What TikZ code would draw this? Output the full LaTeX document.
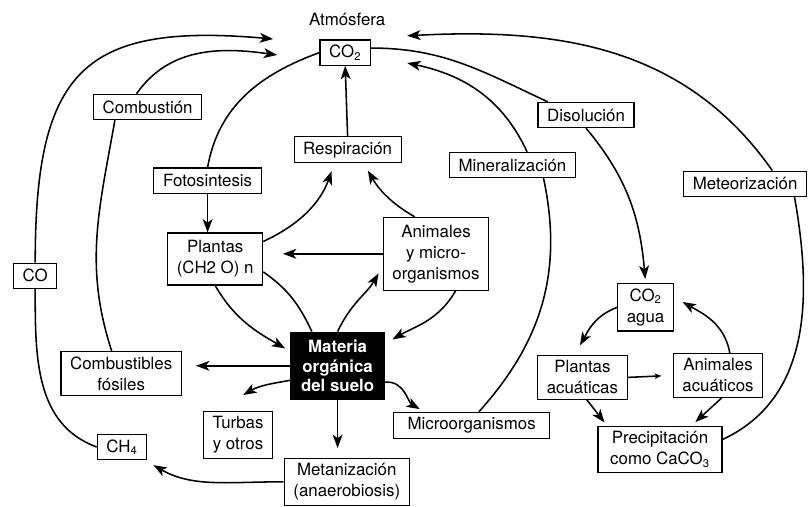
\documentclass[tikz,border=0pt]{standalone}
\usepackage{fontspec}
\setmainfont{TeX Gyre Heros}
\usetikzlibrary{arrows.meta}
\tikzset{
    carbon cycle/.style = {>={Stealth[length=9.5pt, width=7pt, inset=2.5pt]}},
    line/.style      = {line width=1.1pt},
    box/.style       = {draw, line width=0.8pt, fill=white, align=center,
                        inner xsep=6.5pt, inner ysep=3.5pt,
                        minimum height=18pt,
                        font=\fontsize{12}{15}\selectfont},
    soil/.style      = {box, fill=black, text=white,
                        font=\fontsize{12}{14}\selectfont\bfseries,
                        minimum width=2.35cm, minimum height=1.68cm},
    title/.style     = {font=\fontsize{12}{14}\selectfont},
    small tip/.style = {-{Stealth[length=5pt, width=4pt]}}
}

\begin{document}
\begin{tikzpicture}[carbon cycle]
\useasboundingbox (0,0) rectangle (20.2,12.675);

% Atmospheric CO2 and the boxes around it.
\node[title] (atmos) at (8.68,12.18) {Atmósfera};
\node[box] (co2) at (8.63,11.36) {CO\textsubscript{2}};
\node[box] (comb) at (3.69,10.0) {Combustión};
\node[box] (resp) at (8.69,8.93) {Respiración};
\node[box] (foto) at (5.19,8.16) {Fotosintesis};
\node[box] (disol) at (14.65,9.8) {Disolución};
\node[box] (miner) at (12.81,8.55) {Mineralización};
\node[box] (meteor) at (18.63,8.08) {Meteorización};

% Land compartments.
\node[box, minimum width=2.35cm, minimum height=1.3cm]
    (plantas) at (5.38,6.2) {Plantas\\(CH2 O) n};
\node[box, minimum height=1.82cm]
    (animales) at (10.9,6.33) {Animales\\y micro-\\organismos};
\node[box] (co) at (0.88,5.78) {CO};
\node[soil] (materia) at (8.44,3.53) {Materia\\orgánica\\del suelo};
\node[box] (fosiles) at (3.03,3.34) {Combustibles\\fósiles};
\node[box] (turbas) at (5.95,1.8) {Turbas\\y otros};
\node[box, minimum width=3.9cm] (micro) at (11.79,2.04) {Microorganismos};
\node[box] (ch4) at (3.05,1.5) {CH\textsubscript{4}};
\node[box] (metan) at (8.67,0.63) {Metanización\\(anaerobiosis)};

% Aquatic compartments.
\node[box] (co2agua) at (16.14,4.99) {CO\textsubscript{2}\\agua};
\node[box] (plac) at (14.56,3.24) {Plantas\\acuáticas};
\node[box] (anac) at (17.95,3.29) {Animales\\acuáticos};
\node[box, minimum width=3.1cm]
    (precip) at (16.5,1.44) {Precipitación\\como CaCO\textsubscript{3}};

% Loose arrow ends next to the atmosphere box.
\coordinate (tipco) at (6.83,11.7);
\coordinate (tipcomb) at (6.93,11.3);
\coordinate (tipminer) at (10.18,11.1);
\coordinate (tipmeteor) at (10.18,11.78);
\coordinate (turbtip) at (6.08,2.8);

% Outer loop through methane and carbon monoxide.
\draw[line] (ch4.west) to[out=160, in=-90] (co.south);
\draw[->, line] (co.north) to[out=90, in=175, looseness=1.5] (tipco);

% Burning of fossil fuels.
\draw[line] (fosiles.113) to[out=108, in=-100] (comb.202);
\draw[->, line] (comb.130) to[out=55, in=172] (tipcomb);

% Photosynthesis and respiration.
\draw[line] (co2.west) to[out=200, in=80] (foto.north);
\draw[->, line] (foto.south) -- (foto.south |- plantas.north);
\draw[->, line] (resp.north) -- (co2.south);
\draw[->, line, shorten >=6pt] (plantas.20) to[out=25, in=-110] (resp.226);
\draw[->, line, shorten >=6pt] (animales.120) to[out=150, in=-60] (resp.320);
\draw[->, line, shorten >=14pt] (animales.west) -- (plantas.east |- animales.west);

% Soil organic matter.
\draw[->, line, shorten >=4pt] (plantas.south) to[out=-60, in=150] (materia.163);
\draw[line] (plantas.-15) to[out=-35, in=115] (materia.127);
\draw[->, line, shorten >=6pt] (materia.north) to[out=65, in=-120] (animales.193);
\draw[->, line, shorten >=6pt] (animales.-62) to[out=-120, in=30] (materia.25);
\draw[->, line, shorten >=10pt] (materia.west) -- (fosiles.east |- materia.west);
\draw[->, line] (materia.197) to[out=190, in=30] (turbtip);
\draw[->, line, shorten >=7pt] (materia.south) -- (materia.south |- metan.north);
\draw[->, line, shorten >=4pt] (materia.-19) to[out=5, in=150] (micro.164);

% Methanogenesis back to CH4.
\draw[->, line, shorten >=7pt] (metan.west) to[out=180, in=-30] (ch4.-30);

% Mineralisation by microorganisms.
\draw[line] (micro.62) to[out=48, in=-78] (miner.-23);
\draw[->, line] (miner.42) to[out=115, in=-12] (tipminer);

% Dissolution and the aquatic loop.
\draw[line] (co2.10) to[out=0, in=155] (disol.161);
\draw[->, line, shorten >=3pt] (disol.south) to[out=-50, in=95] (co2agua.north);
\draw[->, line, shorten >=8pt] (co2agua.west) to[out=200, in=60] (plac.110);
\draw[->, line, shorten >=7pt] (anac.62) to[out=100, in=-30] (co2agua.20);
\draw[small tip, line, shorten >=8pt] (plac.east) -- (anac.west);
\draw[->, line, shorten >=3pt] (plac.-79) -- (precip.156);
\draw[->, line, shorten >=4pt] (anac.-80) -- (precip.37);

% Weathering of carbonates.
\draw[line] (precip.9) to[out=25, in=-80] (meteor.-15);
\draw[->, line] (meteor.26) to[out=125, in=3] (tipmeteor);

\end{tikzpicture}
\end{document}
